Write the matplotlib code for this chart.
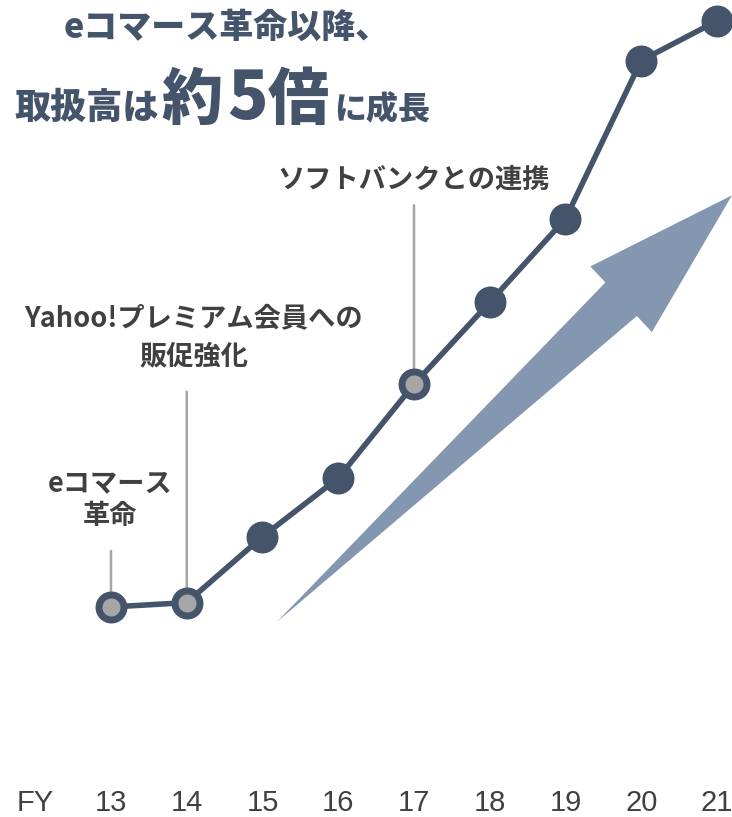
import matplotlib
matplotlib.use("Agg")
import matplotlib.pyplot as plt
from matplotlib.patches import Polygon
from matplotlib.transforms import IdentityTransform
import numpy as np

# Gross merchandise value index (FY13 = 1.0)
years = ["13", "14", "15", "16", "17", "18", "19", "20", "21"]
gmv_index = [1.00, 1.03, 1.48, 1.88, 2.52, 3.08, 3.65, 4.73, 5.00]

# Milestones: (year index, text lines, label centre offset above point in px, x offset px, connector length px)
milestones = [
    (0, ["eコマース", "革命"], 107, -1, 56),
    (1, ["Yahoo!プレミアム会員への", "販促強化"], 265, 7, 211),
    (4, ["ソフトバンクとの連携"], 205, 0, 179),
]

DARK = "#44546A"
GREY_FILL = "#A6A6A6"
LINE_GREY = "#A6A6A6"
TEXT = "#404040"
ARROW = "#8497B0"
JP = ["Noto Sans CJK JP", "DejaVu Sans"]

W, H, DPI = 732, 817, 100
fig = plt.figure(figsize=(W / DPI, H / DPI), dpi=DPI)
ax_bottom_px = 782
ax = fig.add_axes([0, (H - ax_bottom_px) / H, 1, ax_bottom_px / H])
ax.set_xlim(-1.465, 8.198)
ax.set_ylim(-0.1945, 5.143)
for s in ax.spines.values():
    s.set_visible(False)
ax.set_yticks([])
x = np.arange(len(years))
ax.set_xticks([-1] + list(x))
ax.set_xticklabels(["FY"] + years, family=["Liberation Sans Narrow", "Liberation Sans"],
                   fontsize=21, color=TEXT)
ax.tick_params(axis="x", length=0, pad=5)

fig.canvas.draw()

# Growth arrow, built in display space from two anchor points
tail = ax.transData.transform((2.19, 0.898))
tip = ax.transData.transform((8.198, 3.81))
d = tip - tail
L = np.hypot(*d)
u = d / L
n = np.array([u[1], -u[0]])
head_len, head_half, shaft_half = 152, 45, 23
base = tip - u * head_len
pts = [tail,
       base + n * shaft_half,
       base + n * head_half,
       tip,
       base - n * head_half,
       base - n * shaft_half]
ax.add_patch(Polygon(pts, closed=True, facecolor=ARROW, edgecolor="none",
                     transform=IdentityTransform(), zorder=1))

# Connectors and milestone labels
px2pt = 72 / DPI
for idx, lines, off, dx, conn in milestones:
    ax.annotate("", xy=(x[idx], gmv_index[idx]), xytext=(0, conn * px2pt),
                textcoords="offset points",
                arrowprops=dict(arrowstyle="-", color=LINE_GREY, lw=1.8,
                                shrinkA=0, shrinkB=0), zorder=2)
    gap = 38 if len(lines[0]) > 6 else 33
    n_l = len(lines)
    for k, line in enumerate(lines):
        yo = off + (n_l - 1) / 2 * gap - k * gap
        ax.annotate(line, xy=(x[idx], gmv_index[idx]),
                    xytext=(dx * px2pt, yo * px2pt), textcoords="offset points",
                    ha="center", va="center", fontsize=19.6, fontweight="bold",
                    family=JP, color=TEXT)

# Trend line with markers
ax.plot(x, gmv_index, color=DARK, lw=4, zorder=3, solid_capstyle="round")
hollow = [m[0] for m in milestones]
faces = [GREY_FILL if i in hollow else DARK for i in x]
for i in x:
    ax.plot(x[i], gmv_index[i], "o", ms=18, mew=5, mec=DARK, mfc=faces[i], zorder=4)

# Headline
def fx(px):
    return px / W

def fy(py):
    return 1 - py / H

fig.text(fx(227), fy(27), "eコマース革命以降、", ha="center", va="center",
         fontsize=24.5, fontweight="heavy", family=JP, color=DARK)
base_y = fy(119)
fig.text(fx(14), base_y, "取扱高は", ha="left", va="baseline",
         fontsize=26, fontweight="heavy", family=JP, color=DARK)
fig.text(fx(161), base_y, "約", ha="left", va="baseline",
         fontsize=44, fontweight="heavy", family=JP, color=DARK)
fig.text(fx(248), base_y, "5", ha="center", va="baseline",
         fontsize=48, fontweight="heavy", family=JP, color=DARK)
fig.text(fx(268), base_y, "倍", ha="left", va="baseline",
         fontsize=44, fontweight="heavy", family=JP, color=DARK)
fig.text(fx(430), base_y, "に成長", ha="right", va="baseline",
         fontsize=23, fontweight="heavy", family=JP, color=DARK)

fig.savefig("out.png", dpi=DPI)
